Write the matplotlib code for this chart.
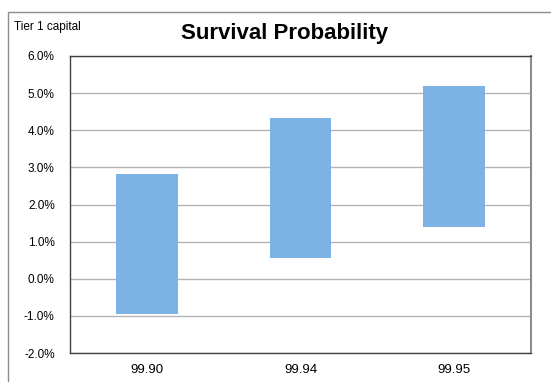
import matplotlib.pyplot as plt
from matplotlib.patches import Rectangle
from matplotlib.ticker import FuncFormatter

plt.rcParams['font.family'] = ['Liberation Sans', 'DejaVu Sans']

# survival probability levels and Tier 1 capital range (percent)
levels = ['99.90', '99.94', '99.95']
low = [-0.94, 0.56, 1.40]
high = [2.82, 4.33, 5.19]

fig = plt.figure(figsize=(5.51, 3.82), dpi=100)
ax = fig.add_axes([70 / 551, 1 - 353 / 382, 461 / 551, 297 / 382])

# outer chart frame
fig.patches.append(Rectangle((8 / 551, -0.1), 1.2, 1 - 12 / 382 + 0.1,
                             transform=fig.transFigure, fill=False,
                             edgecolor='#8c8c8c', linewidth=1.0))

x = range(len(levels))
heights = [h - l for h, l in zip(high, low)]
ax.bar(x, heights, bottom=low, width=0.4, color='#7DB3E4', zorder=3)

ax.set_xlim(-0.5, len(levels) - 0.5)
ax.set_ylim(-2, 6)
ax.set_yticks(range(-2, 7))
ax.yaxis.set_major_formatter(FuncFormatter(lambda v, p: f'{v:.1f}%'))
ax.set_xticks(list(x))
ax.set_xticklabels(levels)
ax.grid(axis='y', color='#b4b4b4', linewidth=1.0, zorder=0)
ax.tick_params(axis='y', length=0, pad=11, labelsize=8.5)
ax.tick_params(axis='x', length=0, pad=8, labelsize=9.5)

for side in ['left', 'bottom', 'top']:
    ax.spines[side].set_color('#404040')
    ax.spines[side].set_linewidth(1.0)
ax.spines['right'].set_color('#8c8c8c')
ax.spines['right'].set_linewidth(1.5)

fig.text(285 / 551, 1 - 33 / 382, 'Survival Probability', ha='center',
         va='center', fontsize=16, fontweight='bold')
fig.text(14 / 551, 1 - 27 / 382, 'Tier 1 capital', ha='left', va='center',
         fontsize=8.5)

fig.savefig('out.png', dpi=100)
